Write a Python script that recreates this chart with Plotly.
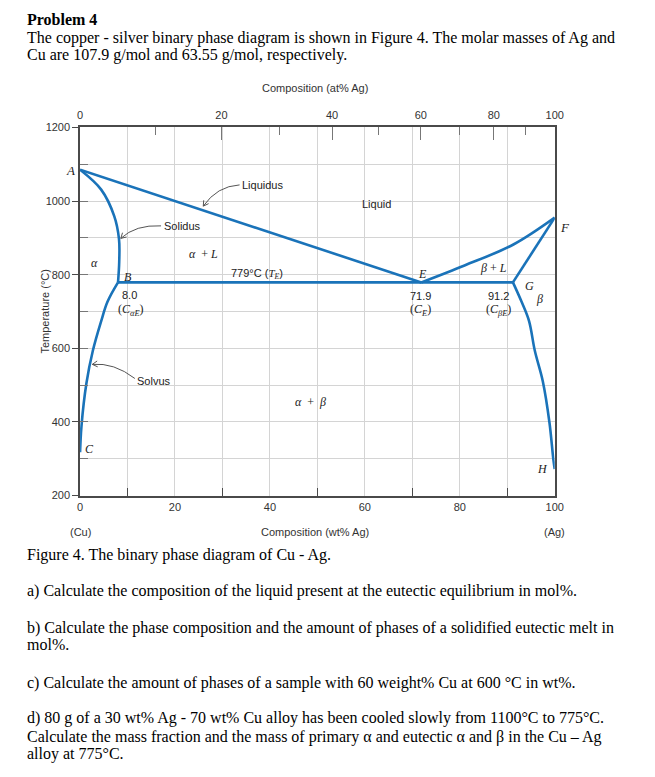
import math
import plotly.graph_objects as go

# ---------------- data (wt% Ag, temperature °C) ----------------
liq_left_x = [0, 71.9]
liq_left_T = [1085, 779]
liq_right_x = [71.9, 81.0, 91.3, 100]
liq_right_T = [779, 825, 882, 955]
sol_left_x = [0, 4.45, 7.2, 8.2, 8.25, 8.0]
sol_left_T = [1085, 1031, 959, 897, 835, 779]
solv_left_x = [8.0, 5.8, 4.45, 2.7, 1.34, 0.3, 0]
solv_left_T = [779, 727, 674, 594, 505, 389, 318]
eut_x = [8.0, 91.2]
eut_T = [779, 779]
sol_right_x = [91.2, 100]
sol_right_T = [779, 955]
solv_right_x = [91.2, 93.0, 94.6, 95.8, 97.5, 98.9, 99.7, 100]
solv_right_T = [779, 727, 674, 594, 510, 398, 300, 272]

wt_ticks = [0, 20, 40, 60, 80, 100]
wt_minor = [10, 30, 50, 70, 90]
T_ticks = [200, 400, 600, 800, 1000, 1200]
T_minor = [300, 500, 700, 900, 1100]
at_major = [0, 20, 40, 60, 80, 100]
at_minor = [10, 30, 50, 70, 90]
M_Ag, M_Cu = 107.87, 63.55

# ---------------- geometry ----------------
W, H = 655, 777
X0, X1 = 78.5, 562.0
Y0, Y1 = 123.3, 497.3  # top (1200) and bottom (200) pixels
BLUE = "#1a73b9"
SANS = "Liberation Sans, Arial, sans-serif"
SERIF = "Liberation Serif, Times New Roman, serif"


def at2wt(a):
    return 100 * a * M_Ag / (a * M_Ag + (100 - a) * M_Cu)


def dx(px):
    return (px - X0) / (X1 - X0) * 100


def dy(py):
    return 1200 - (py - Y0) / (Y1 - Y0) * 1000


def pxp(px):
    return px / W


def pyp(py):
    return 1 - py / H


fig = go.Figure()
curves = [
    (liq_left_x, liq_left_T, "linear"),
    (liq_right_x, liq_right_T, "spline"),
    (sol_left_x, sol_left_T, "spline"),
    (solv_left_x, solv_left_T, "spline"),
    (eut_x, eut_T, "linear"),
    (sol_right_x, sol_right_T, "linear"),
    (solv_right_x, solv_right_T, "spline"),
]
for xs, ts, shp in curves:
    fig.add_trace(go.Scatter(x=xs, y=ts, mode="lines",
                             line=dict(color=BLUE, width=2.6, shape=shp),
                             hoverinfo="skip", showlegend=False, cliponaxis=False))
# invisible trace for the top axis
fig.add_trace(go.Scatter(x=[0, 100], y=[200, 200], xaxis="x2", yaxis="y", mode="markers",
                         marker=dict(opacity=0), showlegend=False, hoverinfo="skip"))

GRID = "#d4d4d4"
AX = "#4a4a4a"
fig.update_layout(
    width=W, height=H, margin=dict(l=0, r=0, t=0, b=0),
    paper_bgcolor="white", plot_bgcolor="white",
    xaxis=dict(domain=[X0 / W, X1 / W], range=[0, 100], tickvals=wt_ticks,
               ticks="", showgrid=True, gridcolor=GRID, gridwidth=1,
               showline=True, linecolor=AX, linewidth=1.5, mirror=True,
               tickfont=dict(family=SANS, size=11, color="#333"), zeroline=False,
               minor=dict(tickvals=wt_minor, ticks="inside", ticklen=8, tickcolor=AX,
                          showgrid=True, gridcolor=GRID, gridwidth=1)),
    xaxis2=dict(overlaying="x", side="top", anchor="y", range=[0, 100],
                tickvals=[at2wt(a) for a in at_major], ticktext=[str(a) for a in at_major],
                ticks="inside", ticklen=13, tickcolor="#777", showgrid=False, zeroline=False,
                showline=False, tickfont=dict(family=SANS, size=11, color="#333"),
                ticklabelstandoff=5,
                minor=dict(tickvals=[at2wt(a) for a in at_minor], ticks="inside",
                           ticklen=8, tickcolor="#777", showgrid=False)),
    yaxis=dict(domain=[1 - Y1 / H, 1 - Y0 / H], range=[200, 1200], tickvals=T_ticks,
               ticks="outside", ticklen=6, tickcolor=AX, showgrid=True, gridcolor=GRID,
               gridwidth=1, showline=True, linecolor=AX, linewidth=1.5, mirror=True,
               zeroline=False, tickfont=dict(family=SANS, size=11, color="#333"),
               minor=dict(tickvals=T_minor + T_ticks[1:-1], ticks="inside", ticklen=8,
                          tickcolor="#777", showgrid=True, gridcolor=GRID, gridwidth=1)),
)

ann = []


def text(px, py, s, size=16, family=SERIF, anchor="left", color="black"):
    ann.append(dict(x=pxp(px), y=pyp(py), xref="paper", yref="paper", text=s,
                    showarrow=False, xanchor=anchor, yanchor="middle",
                    font=dict(family=family, size=size, color=color)))


text(22, 14, "<b>Problem 4</b>")
text(22, 33, "The copper - silver binary phase diagram is shown in Figure 4. The molar masses of Ag and")
text(22, 50, "Cu are 107.9 g/mol and 63.55 g/mol, respectively.")
text(22, 558, "Figure 4. The binary phase diagram of Cu - Ag.")
text(22, 594, "a) Calculate the composition of the liquid present at the eutectic equilibrium in mol%.")
text(22, 632, "b) Calculate the phase composition and the amount of phases of a solidified eutectic melt in")
text(22, 649, "mol%.")
text(22, 688, "c) Calculate the amount of phases of a sample with 60 weight% Cu at 600 °C in wt%.")
text(22, 723, "d) 80 g of a 30 wt% Ag - 70 wt% Cu alloy has been cooled slowly from 1100°C to 775°C.")
text(22, 742, "Calculate the mass fraction and the mass of primary α and eutectic α and β in the Cu – Ag")
text(22, 760, "alloy at 775°C.")

text(318, 83, "Composition (at% Ag)", 11, SANS, "center", "#333")
text(318, 534, "Composition (wt% Ag)", 11, SANS, "center", "#333")
text(79, 534, "(Cu)", 11, SANS, "center", "#333")
text(562, 534, "(Ag)", 11, SANS, "center", "#333")
ann.append(dict(x=pxp(35), y=pyp(310), xref="paper", yref="paper", text="Temperature (°C)",
                showarrow=False, textangle=-90, font=dict(family=SANS, size=11, color="#333")))
# point labels that sit just outside the frame (paper coordinates)
text(69, 167, "<i>A</i>", 13, SERIF, "center", "#222")
text(572, 225, "<i>F</i>", 13, SERIF, "center", "#222")

# labels inside the diagram: (wt%, T, text, font, size)
labels = [
    (3.0, 832, "<i>α</i>", SERIF, 12),
    (10.2, 794, "<i>B</i>", SERIF, 12),
    (10.5, 745, "8.0", SANS, 11),
    (10.7, 705, "(<i>C</i><sub><i>αE</i></sub>)", SERIF, 12),
    (26.0, 857, "<i>α</i>  + <i>L</i>", SERIF, 12),
    (37.2, 803, "779°C (<span style='font-family:Liberation Serif'><i>T</i><sub><i>E</i></sub></span>)", SANS, 11),
    (62.4, 993, "Liquid", SANS, 11),
    (72.1, 802, "<i>E</i>", SERIF, 12),
    (71.8, 743, "71.9", SANS, 11),
    (71.7, 703, "(<i>C</i><sub><i>E</i></sub>)", SERIF, 12),
    (87.2, 819, "<i>β</i> + <i>L</i>", SERIF, 12),
    (94.6, 770, "<i>G</i>", SERIF, 12),
    (96.7, 735, "<i>β</i>", SERIF, 12),
    (88.2, 743, "91.2", SANS, 11),
    (88.2, 703, "(<i>C</i><sub><i>βE</i></sub>)", SERIF, 12),
    (48.6, 454, "<i>α</i>  +  <i>β</i>", SERIF, 12),
    (1.9, 326, "<i>C</i>", SERIF, 12),
    (97.5, 273, "<i>H</i>", SERIF, 12),
]
for x, t, s, fam, sz in labels:
    ann.append(dict(x=x, y=t, xref="x", yref="y", text=s, showarrow=False,
                    xanchor="center", yanchor="middle",
                    font=dict(family=fam, size=sz, color="#222")))
# named-curve labels (left-anchored)
for x, t, s in [(17.3, 933, "Solidus"), (33.8, 1044, "Liquidus"), (11.6, 512, "Solvus")]:
    ann.append(dict(x=x, y=t, xref="x", yref="y", text=s, showarrow=False,
                    xanchor="left", yanchor="middle",
                    font=dict(family=SANS, size=11, color="#222")))
fig.update_layout(annotations=ann)

# curved pointer arrows (pixel geometry -> data coords)
shapes = []
arrows = [((161, 223.3), (135, 222), (120, 236)),
          ((241, 181.7), (218, 183), (204, 203.3)),
          ((134.3, 378.3), (113, 362), (91, 364))]
for (sx, sy), (cx, cy), (ex, ey) in arrows:
    shapes.append(dict(type="path", xref="x", yref="y",
                       path=f"M {dx(sx)},{dy(sy)} Q {dx(cx)},{dy(cy)} {dx(ex)},{dy(ey)}",
                       line=dict(color="#555", width=1)))
    ang = math.atan2(ey - cy, ex - cx)
    L = 6
    pts = []
    for da in (math.radians(30), -math.radians(30)):
        a = ang + math.pi + da
        pts.append((ex + L * math.cos(a), ey + L * math.sin(a)))
    shapes.append(dict(type="path", xref="x", yref="y",
                       path=f"M {dx(pts[0][0])},{dy(pts[0][1])} L {dx(ex)},{dy(ey)} L {dx(pts[1][0])},{dy(pts[1][1])}",
                       line=dict(color="#555", width=1)))
fig.update_layout(shapes=shapes)

fig.write_html("out.html")
